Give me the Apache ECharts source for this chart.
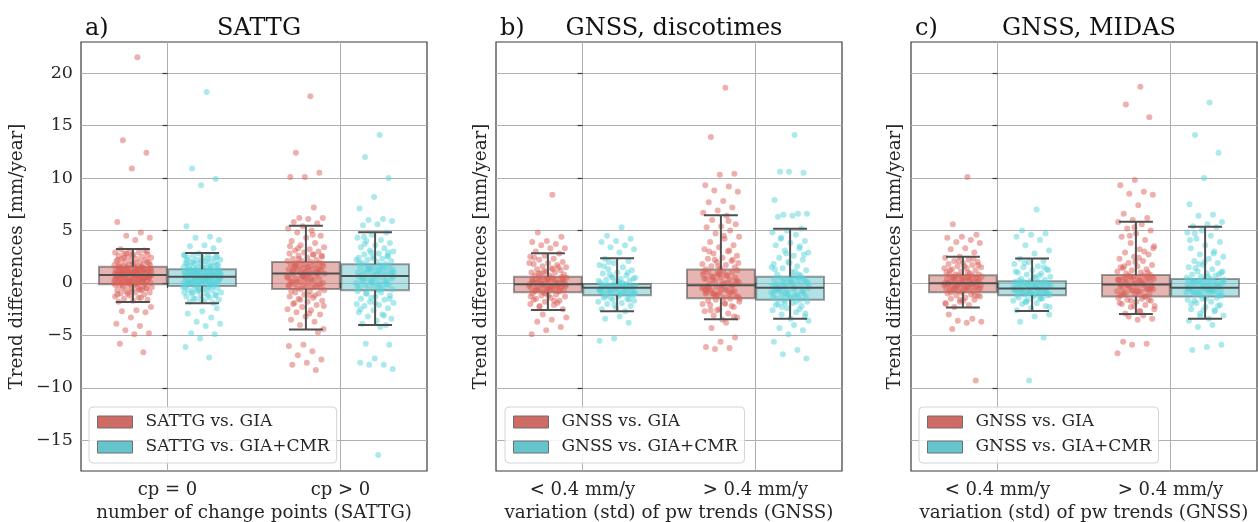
<!DOCTYPE html>
<html>
<head>
<meta charset="utf-8">
<script src="https://cdn.jsdelivr.net/npm/echarts@6/dist/echarts.min.js"></script>
<style>
  html, body { margin: 0; padding: 0; background: #fff; }
  #chart { width: 1258px; height: 522px; }
</style>
</head>
<body>
<div id="chart"></div>
<script>
// ---- text ----
const panelLetters = ['a)', 'b)', 'c)'];
const panelTitles = ['SATTG', 'GNSS, discotimes', 'GNSS, MIDAS'];
const categoriesSATTG = ['cp = 0', 'cp > 0'];
const categoriesGNSS = ['< 0.4 mm/y', '> 0.4 mm/y'];
const xAxisTitles = ['number of change points (SATTG)', 'variation (std) of pw trends (GNSS)', 'variation (std) of pw trends (GNSS)'];
const yAxisTitle = 'Trend differences [mm/year]';
const yTicks = [-15, -10, -5, 0, 5, 10, 15, 20];
const namesSATTG = ['SATTG vs. GIA', 'SATTG vs. GIA+CMR'];
const namesGNSS = ['GNSS vs. GIA', 'GNSS vs. GIA+CMR'];

// ---- box statistics: [lower whisker, q1, median, q3, upper whisker] per category ----
const boxSattgGia = [[-1.81, -0.12, 0.76, 1.55, 3.24], [-4.44, -0.57, 0.89, 2.00, 5.46]];
const boxSattgCmr = [[-1.94, -0.29, 0.60, 1.30, 2.86], [-4.00, -0.70, 0.67, 1.78, 4.83]];
const boxDiscoGia = [[-2.57, -0.89, -0.12, 0.60, 2.83], [-3.46, -1.46, -0.22, 1.27, 6.44]];
const boxDiscoCmr = [[-2.70, -1.17, -0.45, -0.10, 2.35], [-3.40, -1.59, -0.45, 0.60, 5.17]];
const boxMidasGia = [[-2.35, -0.89, -0.03, 0.73, 2.50], [-2.95, -1.30, -0.16, 0.76, 5.84]];
const boxMidasCmr = [[-2.67, -1.17, -0.54, 0.16, 2.32], [-3.40, -1.30, -0.45, 0.38, 5.36]];

// ---- individual trend differences [mm/year] ----
const sattgGia0 = [21.5, 13.6, 12.4, 10.9, 5.8, 4.8, 4.5, 4.3, 4.1,
  3.2, 3.1, 3.0, 2.9, 2.9, 2.8, 2.7, 2.7, 2.6, 2.5, 2.5, 2.4, 2.3, 2.3, 2.2, 2.1, 2.1, 2.0, 2.0, 1.9, 1.9, 1.8, 1.8, 1.7, 1.7, 1.6, 1.6, 3.0, 2.6, 2.2,
  1.5, 1.5, 1.4, 1.4, 1.4, 1.3, 1.3, 1.3, 1.2, 1.2, 1.2, 1.1, 1.1, 1.1, 1.0, 1.0, 1.0, 1.0, 0.9, 0.9, 0.9, 0.9, 0.8, 0.8, 0.8, 0.8, 1.3, 1.1, 0.9, 1.2,
  2.4, 2.0, 1.8, 1.6, 1.5, 1.4, 1.3, 1.2, 1.1, 1.0, 0.9, 0.8, 0.7, 0.6, 0.5, 0.4, 0.3, 0.2, 0.1, 0.0,
  -0.1, -0.3, -0.5, -0.8, -1.1, -1.4, 2.8, 1.7, 1.2, 0.8, 0.5, 0.2, -0.2, -0.6, 1.0, 0.6, 0.9, 1.4, 0.4, 0.0,
  0.7, 0.7, 0.7, 0.6, 0.6, 0.6, 0.5, 0.5, 0.5, 0.4, 0.4, 0.4, 0.3, 0.3, 0.3, 0.2, 0.2, 0.2, 0.1, 0.1, 0.1, 0.0, 0.0, 0.0, -0.1, -0.1, 0.5, 0.3, 0.1, 0.6,
  -0.2, -0.2, -0.3, -0.3, -0.4, -0.4, -0.5, -0.5, -0.6, -0.7, -0.7, -0.8, -0.9, -0.9, -1.0, -1.1, -1.2, -1.3, -1.4, -1.5, -1.6, -1.7, -1.8, -0.6, -1.0,
  -2.3, -2.6, -2.7, -2.8, -3.3, -3.9, -4.1, -4.5, -4.8, -4.9, -5.8, -6.6];
const sattgGia1 = [17.8, 12.4, 10.5, 10.1, 10.1, 7.2, 6.2, 6.2, 6.1, 5.8, 5.7,
  5.4, 5.2, 5.0, 4.8, 4.5, 4.3, 4.0, 3.8, 3.6, 3.4, 3.2, 3.1, 3.0, 2.9, 2.8, 2.7, 2.6, 2.5, 2.4, 2.3, 2.2, 2.1, 2.1, 2.0,
  1.9, 1.9, 1.8, 1.8, 1.7, 1.6, 1.6, 1.5, 1.5, 1.4, 1.4, 1.3, 1.3, 1.2, 1.2, 1.1, 1.1, 1.0, 1.0, 0.9, 0.9, 1.6, 1.3, 1.0,
  3.5, 2.7, 2.3, 1.8, 1.5, 1.2, 1.0, 0.7, 0.5, 0.3, 0.1, -0.1, -0.4, -0.8, -1.2, -1.6, -2.2, -2.9, 1.7, 0.9, 0.6, -0.2, 4.6, 3.3, 2.6,
  0.8, 0.8, 0.7, 0.6, 0.6, 0.5, 0.4, 0.4, 0.3, 0.2, 0.2, 0.1, 0.0, 0.0, -0.1, -0.2, -0.2, -0.3, -0.4, -0.5, -0.5, 0.5, 0.1, -0.3,
  -0.6, -0.7, -0.8, -0.9, -1.0, -1.1, -1.3, -1.4, -1.5, -1.7, -1.8, -2.0, -2.1, -2.3, -2.5, -2.6, -2.8, -3.0, -3.2, -3.5, -3.7, -4.0, -4.4, -1.2, -1.9,
  -4.7, -5.9, -6.0, -6.5, -6.9, -7.3, -7.6, -7.8, -8.3];
const sattgCmr0 = [18.2, 10.9, 9.9, 9.3, 5.4, 4.4, 4.3, 4.1, 3.6, 3.5, 3.3,
  2.8, 2.7, 2.7, 2.6, 2.5, 2.4, 2.4, 2.3, 2.2, 2.2, 2.1, 2.0, 2.0, 1.9, 1.9, 1.8, 1.8, 1.7, 1.7, 1.6, 1.6, 1.5, 1.5, 1.4, 1.4, 2.5, 2.1, 1.8,
  1.3, 1.3, 1.2, 1.2, 1.2, 1.1, 1.1, 1.1, 1.0, 1.0, 1.0, 0.9, 0.9, 0.9, 0.9, 0.8, 0.8, 0.8, 0.7, 0.7, 0.7, 0.7, 0.6, 0.6, 0.6, 1.0, 0.8, 1.1,
  2.6, 2.3, 2.0, 1.7, 1.5, 1.3, 1.2, 1.1, 1.0, 0.9, 0.8, 0.7, 0.6, 0.5, 0.4, 0.3, 0.2, 0.1, 0.0, -0.1,
  -0.2, -0.4, -0.6, -0.9, -1.2, -1.6, 2.2, 1.6, 1.0, 0.7, 0.4, 0.1, -0.3, -0.7, 0.9, 0.5, 0.8, 1.3, 0.3, 0.0,
  0.5, 0.5, 0.5, 0.4, 0.4, 0.4, 0.3, 0.3, 0.3, 0.2, 0.2, 0.2, 0.1, 0.1, 0.1, 0.0, 0.0, 0.0, -0.1, -0.1, -0.2, -0.2, -0.3, 0.4, 0.2, 0.0, -0.1, 0.3,
  -0.4, -0.4, -0.5, -0.5, -0.6, -0.7, -0.7, -0.8, -0.9, -1.0, -1.0, -1.1, -1.2, -1.3, -1.4, -1.5, -1.6, -1.7, -1.8, -1.9, -0.6, -0.9, -1.2, -1.5,
  -2.4, -2.7, -2.9, -3.3, -3.7, -3.9, -4.1, -4.8, -4.9, -5.3, -6.1, -7.1];
const sattgCmr1 = [14.1, 12.0, 10.0, 8.2, 7.1, 6.1, 6.0, 5.9, 5.6, 5.5,
  4.8, 4.6, 4.3, 4.1, 4.0, 3.8, 3.6, 3.4, 3.3, 3.1, 3.0, 2.8, 2.7, 2.6, 2.5, 2.4, 2.3, 2.2, 2.1, 2.0, 1.9, 1.8, 2.9, 2.2,
  1.7, 1.7, 1.6, 1.5, 1.5, 1.4, 1.3, 1.3, 1.2, 1.1, 1.1, 1.0, 1.0, 0.9, 0.9, 0.8, 0.8, 0.7, 0.7, 1.4, 1.0, 1.2,
  3.7, 2.9, 2.3, 1.9, 1.6, 1.3, 1.0, 0.8, 0.5, 0.2, 0.0, -0.3, -0.6, -1.0, -1.5, -1.9, -2.5, -3.1, 1.5, 0.6, -0.2, 4.4, 2.5,
  0.6, 0.6, 0.5, 0.4, 0.4, 0.3, 0.2, 0.1, 0.1, 0.0, -0.1, -0.2, -0.2, -0.3, -0.4, -0.5, -0.5, -0.6, -0.7, 0.3, -0.1, 0.2,
  -0.8, -0.9, -1.0, -1.2, -1.3, -1.5, -1.6, -1.8, -1.9, -2.1, -2.2, -2.4, -2.6, -2.8, -3.0, -3.2, -3.4, -3.6, -3.9, -4.0, -1.4, -2.0,
  -4.2, -5.8, -5.9, -7.2, -7.6, -7.8, -7.8, -8.2, -16.4];

const discoGia0 = [8.4, 4.8, 4.4, 4.0, 3.9, 3.7, 3.6, 3.3, 3.3, 3.0,
  2.8, 2.6, 2.5, 2.3, 2.2, 2.0, 1.9, 1.8, 1.7, 1.6, 1.5, 1.4, 1.3, 1.2, 1.1, 1.0, 1.0, 0.9, 0.8, 0.7, 0.7, 1.5, 1.1,
  1.9, 1.3, 0.9, 0.6, 0.4, 0.2, 0.0, -0.1, -0.2, -0.4, -0.6, -0.8, -1.0, -1.3, -1.7, -2.2, 0.3, -0.5, 2.4, -0.3,
  0.6, 0.5, 0.5, 0.4, 0.4, 0.3, 0.3, 0.2, 0.2, 0.1, 0.1, 0.0, 0.0, -0.1, -0.1, 0.4, 0.2, 0.0, 0.3, 0.1,
  -0.2, -0.2, -0.3, -0.3, -0.4, -0.4, -0.5, -0.5, -0.6, -0.6, -0.7, -0.7, -0.8, -0.8, -0.9, -0.3, -0.5, -0.7, -0.4, -0.6,
  -1.0, -1.1, -1.2, -1.3, -1.4, -1.5, -1.7, -1.8, -2.0, -2.1, -2.3, -2.5, -1.2, -1.6, -1.9,
  -3.0, -3.3, -3.5, -3.7, -4.2, -4.5, -4.9];
const discoGia1 = [18.6, 13.9, 10.4, 10.3, 9.3, 9.2, 8.8, 8.7, 7.8, 7.7, 7.2, 6.9, 6.7,
  6.4, 6.0, 5.6, 5.4, 5.3, 5.0, 4.7, 4.4, 4.2, 3.9, 3.6, 3.4, 3.2, 3.0, 2.8, 2.6, 2.4, 2.3, 2.1, 2.0, 1.8, 1.7, 1.6, 1.5, 1.4, 1.3, 3.1, 2.2, 1.9,
  4.5, 3.0, 2.2, 1.6, 1.1, 0.7, 0.3, 0.0, -0.3, -0.6, -0.9, -1.2, -1.5, -2.0, -2.6, -3.2, 0.9, -0.7, 5.9, -1.0,
  1.2, 1.1, 1.0, 1.0, 0.9, 0.8, 0.7, 0.6, 0.5, 0.5, 0.4, 0.3, 0.2, 0.1, 0.0, -0.1, -0.2, 0.8, 0.4, 0.0, 0.6, 0.2, -0.1,
  -0.3, -0.3, -0.4, -0.5, -0.6, -0.7, -0.8, -0.9, -1.0, -1.1, -1.2, -1.3, -1.4, -0.5, -0.8, -1.1, -0.4, -0.7, -1.0, -1.3, -0.6, -0.9,
  -1.5, -1.6, -1.8, -1.9, -2.1, -2.3, -2.5, -2.7, -2.9, -3.1, -3.3, -3.5, -1.7, -2.2, -2.6, -2.0,
  -3.8, -4.3, -5.2, -5.6, -6.1, -6.2, -6.3];
const discoCmr0 = [5.3, 4.5, 4.2, 4.0, 3.9, 3.6, 3.4, 3.2, 2.9,
  2.3, 2.1, 1.9, 1.7, 1.5, 1.3, 1.2, 1.0, 0.9, 0.7, 0.6, 0.5, 0.4, 0.3, 0.2, 0.1, 0.0, -0.1, 0.8, 0.4, 0.1,
  1.6, 1.0, 0.5, 0.2, 0.0, -0.2, -0.3, -0.4, -0.5, -0.6, -0.8, -0.9, -1.1, -1.3, -1.6, -2.1, -0.7, -0.4, 2.0, -1.0,
  -0.1, -0.2, -0.2, -0.2, -0.3, -0.3, -0.3, -0.4, -0.4, -0.4, -0.2, -0.3, -0.4, -0.1, -0.3,
  -0.5, -0.5, -0.6, -0.6, -0.7, -0.7, -0.8, -0.8, -0.9, -0.9, -1.0, -1.0, -1.1, -1.1, -0.6, -0.8, -1.0, -0.7,
  -1.2, -1.3, -1.4, -1.5, -1.6, -1.8, -1.9, -2.0, -2.2, -2.4, -2.5, -2.7, -1.4, -1.7,
  -3.2, -3.4, -3.8, -5.3, -5.5];
const discoCmr1 = [14.1, 10.6, 10.5, 10.6, 7.9, 6.6, 6.5, 6.6, 6.4, 6.3,
  5.2, 5.0, 4.8, 4.6, 4.3, 4.0, 3.8, 3.6, 3.3, 3.1, 2.9, 2.6, 2.4, 2.2, 2.0, 1.8, 1.6, 1.4, 1.2, 1.0, 0.8, 0.7, 2.8, 1.5, 1.1,
  4.2, 2.7, 1.9, 1.3, 0.8, 0.4, 0.1, -0.2, -0.5, -0.8, -1.1, -1.4, -1.8, -2.3, -2.9, 0.2, -0.6, 3.5, -1.0, -0.3,
  0.6, 0.5, 0.4, 0.4, 0.3, 0.2, 0.1, 0.0, 0.0, -0.1, -0.2, -0.3, -0.3, -0.4, -0.4, 0.3, 0.1, -0.2, 0.5, -0.1,
  -0.5, -0.6, -0.7, -0.8, -0.9, -1.0, -1.1, -1.2, -1.3, -1.4, -1.5, -1.6, -0.6, -0.9, -1.2, -0.8, -1.0, -1.4, -0.7, -1.3,
  -1.7, -1.8, -1.9, -2.0, -2.2, -2.4, -2.6, -2.8, -3.0, -3.2, -3.4, -2.1, -2.5, -1.9,
  -3.6, -4.0, -4.3, -4.5, -4.9, -5.6, -6.4, -6.8, -7.2];

const midasGia0 = [10.1, 5.6, 4.6, 4.4, 4.3, 4.1, 3.9, 3.8, 3.3, 3.2, 2.9,
  2.5, 2.4, 2.2, 2.1, 2.0, 1.9, 1.8, 1.7, 1.6, 1.5, 1.4, 1.3, 1.2, 1.1, 1.0, 0.9, 0.8, 0.8, 1.6, 1.2, 2.3,
  2.1, 1.4, 1.0, 0.6, 0.4, 0.2, 0.0, -0.1, -0.3, -0.5, -0.7, -0.9, -1.2, -1.6, -2.0, 0.3, -0.4, 1.7, -0.2, 0.8,
  0.7, 0.7, 0.6, 0.6, 0.5, 0.5, 0.4, 0.4, 0.3, 0.3, 0.2, 0.2, 0.1, 0.1, 0.0, 0.0, 0.5, 0.3, 0.1, 0.6,
  -0.1, -0.1, -0.2, -0.2, -0.3, -0.3, -0.4, -0.4, -0.5, -0.5, -0.6, -0.6, -0.7, -0.7, -0.8, -0.8, -0.2, -0.4, -0.6, -0.3,
  -0.9, -1.0, -1.1, -1.2, -1.3, -1.4, -1.5, -1.6, -1.8, -1.9, -2.1, -2.3, -1.2, -1.7,
  -3.0, -3.4, -3.6, -3.7, -3.8, -4.4, -9.3];
const midasGia1 = [18.7, 17.0, 15.8, 9.8, 9.3, 8.7, 8.5, 8.4, 7.4, 6.6, 6.2, 6.0,
  5.8, 5.6, 5.2, 5.0, 4.7, 4.4, 4.1, 3.8, 3.5, 3.2, 2.9, 2.7, 2.5, 2.3, 2.1, 1.9, 1.7, 1.6, 1.4, 1.3, 1.2, 1.1, 1.0, 0.9, 0.8, 2.0, 1.5, 3.0,
  4.5, 3.3, 2.4, 1.6, 1.0, 0.6, 0.3, 0.0, -0.2, -0.5, -0.8, -1.0, -1.3, -1.7, -2.2, -2.7, 0.4, -0.6, 5.3, -0.3,
  0.7, 0.7, 0.6, 0.5, 0.5, 0.4, 0.3, 0.3, 0.2, 0.1, 0.1, 0.0, -0.1, -0.1, 0.6, 0.4, 0.2, 0.0, 0.5, -0.1, 0.3,
  -0.2, -0.3, -0.3, -0.4, -0.5, -0.6, -0.7, -0.8, -0.8, -0.9, -1.0, -1.1, -1.2, -1.3, -0.4, -0.6, -0.9, -1.1, -0.5, -0.7,
  -1.4, -1.5, -1.6, -1.7, -1.8, -2.0, -2.1, -2.3, -2.5, -2.7, -2.9, -1.6, -2.2, -1.9,
  -3.1, -3.2, -3.4, -3.5, -5.6, -5.8, -5.9, -6.7];
const midasCmr0 = [7.0, 5.0, 4.7, 4.6, 4.4, 4.1, 3.6, 3.1, 2.8,
  2.3, 2.1, 2.0, 1.8, 1.6, 1.5, 1.3, 1.2, 1.0, 0.9, 0.8, 0.6, 0.5, 0.4, 0.3, 0.2, 1.1, 0.7,
  1.9, 1.2, 0.6, 0.2, 0.0, -0.2, -0.4, -0.5, -0.6, -0.8, -1.0, -1.2, -1.4, -1.8, -2.3, -0.3, -0.7, 1.5, -0.9, 0.1,
  0.1, 0.1, 0.0, 0.0, -0.1, -0.1, -0.2, -0.2, -0.3, -0.3, -0.4, -0.4, -0.5, -0.5, 0.0, -0.2, -0.4, -0.1,
  -0.6, -0.6, -0.7, -0.7, -0.8, -0.8, -0.9, -0.9, -1.0, -1.0, -1.1, -1.1, -0.7, -0.9, -1.0, -0.6, -0.8, -1.1,
  -1.2, -1.3, -1.4, -1.5, -1.6, -1.7, -1.9, -2.0, -2.2, -2.4, -2.6, -1.5, -1.8,
  -3.0, -3.2, -3.7, -5.2, -9.3];
const midasCmr1 = [17.2, 14.1, 12.4, 10.0, 7.5, 6.5, 6.4, 5.8, 5.6,
  5.4, 5.3, 5.0, 4.8, 4.5, 4.2, 3.9, 3.6, 3.3, 3.0, 2.7, 2.5, 2.3, 2.1, 1.9, 1.7, 1.5, 1.3, 1.1, 1.0, 0.9, 0.8, 0.7, 0.6, 0.5, 0.4, 1.4, 0.8, 2.0,
  4.1, 2.8, 1.8, 1.1, 0.6, 0.2, -0.1, -0.3, -0.5, -0.7, -0.9, -1.2, -1.5, -2.0, -2.6, -3.2, 0.3, -0.6, 4.7, -0.4,
  0.3, 0.3, 0.2, 0.2, 0.1, 0.1, 0.0, 0.0, -0.1, -0.1, -0.2, -0.2, -0.3, -0.3, -0.4, -0.4, 0.2, 0.0, -0.2, 0.1, -0.3,
  -0.5, -0.5, -0.6, -0.6, -0.7, -0.7, -0.8, -0.8, -0.9, -0.9, -1.0, -1.1, -1.2, -1.3, -0.6, -0.8, -1.0, -1.2, -0.7, -0.9,
  -1.4, -1.5, -1.6, -1.8, -1.9, -2.1, -2.3, -2.5, -2.7, -2.9, -3.1, -3.4, -1.7, -2.2, -2.6,
  -3.6, -4.0, -4.2, -5.9, -6.1, -6.4];

// ---- styling ----
const FONT = 'DejaVu Serif';
const TEXT = '#262626';
const FRAME = '#3a3a3a';
const GRIDLINE = '#b0b0b0';
const Y_MIN = -17.92, Y_MAX = 22.96;
const HUE_OFFSET = 0.2;      // dodge of the two hues around a category
const BOX_WIDTH = 0.392;     // in category units
const JITTER = 0.22;         // total strip width, category units
const hues = [
  { legend: '#cd6b64', box: 'rgba(205,107,100,0.5)', point: 'rgba(219,95,87,0.62)' },
  { legend: '#66c5cc', box: 'rgba(102,197,204,0.5)', point: 'rgba(87,211,219,0.62)' }
];

const panels = [
  { cats: categoriesSATTG, names: namesSATTG, boxes: [boxSattgGia, boxSattgCmr],
    points: [[sattgGia0, sattgGia1], [sattgCmr0, sattgCmr1]], left: 81, legendLeft: 89, nameGap: 55, showLabels: true },
  { cats: categoriesGNSS, names: namesGNSS, boxes: [boxDiscoGia, boxDiscoCmr],
    points: [[discoGia0, discoGia1], [discoCmr0, discoCmr1]], left: 496, legendLeft: 505, nameGap: 6, showLabels: false },
  { cats: categoriesGNSS, names: namesGNSS, boxes: [boxMidasGia, boxMidasCmr],
    points: [[midasGia0, midasGia1], [midasCmr0, midasCmr1]], left: 911, legendLeft: 919, nameGap: 7, showLabels: false }
];
const PANEL_W = 346, PANEL_TOP = 42, PANEL_H = 429;

// horizontal strip placement of the points within one hue column
function strip(values, center) {
  return values.map((v, i) => [center + ((((i + 1) * 0.6180339887) % 1) - 0.5) * JITTER, v]);
}

function boxRect(params, api) {
  const x = api.value(0);
  const hw = api.size([BOX_WIDTH, 0])[0] / 2;
  const top = api.coord([x, api.value(4)]);
  const bot = api.coord([x, api.value(2)]);
  return {
    type: 'rect',
    shape: { x: top[0] - hw, y: top[1], width: 2 * hw, height: bot[1] - top[1] },
    style: { fill: api.visual('color'), stroke: 'rgba(60,60,60,0.5)', lineWidth: 2 }
  };
}

function boxLines(params, api) {
  const x = api.value(0);
  const hw = api.size([BOX_WIDTH, 0])[0] / 2;
  const low = api.coord([x, api.value(1)]);
  const cx = low[0];
  const yLow = low[1];
  const yQ1 = api.coord([x, api.value(2)])[1];
  const yMed = api.coord([x, api.value(3)])[1];
  const yQ3 = api.coord([x, api.value(4)])[1];
  const yHigh = api.coord([x, api.value(5)])[1];
  const st = { stroke: '#4f4f4f', lineWidth: 2 };
  const seg = (x1, y1, x2, y2) => ({ type: 'line', shape: { x1, y1, x2, y2 }, style: st });
  return {
    type: 'group',
    children: [
      seg(cx - hw, yMed, cx + hw, yMed),
      seg(cx, yQ3, cx, yHigh),
      seg(cx - hw / 2, yHigh, cx + hw / 2, yHigh),
      seg(cx, yQ1, cx, yLow),
      seg(cx - hw / 2, yLow, cx + hw / 2, yLow)
    ]
  };
}

const option = {
  backgroundColor: '#fff',
  animation: false,
  textStyle: { fontFamily: FONT },
  title: [], grid: [], xAxis: [], yAxis: [], legend: [], series: []
};

panels.forEach((p, i) => {
  const center = p.left + PANEL_W / 2;
  option.title.push({
    text: panelLetters[i], left: p.left - 1, top: 12,
    textStyle: { fontFamily: FONT, fontSize: 24, fontWeight: 'normal', color: '#111' }
  });
  option.title.push({
    text: panelTitles[i], left: center, top: 12, textAlign: 'center',
    textStyle: { fontFamily: FONT, fontSize: 24, fontWeight: 'normal', color: '#111' }
  });
  option.grid.push({
    left: p.left, top: PANEL_TOP, width: PANEL_W, height: PANEL_H,
    containLabel: false, outerBoundsMode: 'none',
    show: true, borderColor: FRAME, borderWidth: 1.2, backgroundColor: 'transparent'
  });
  // visible category axis: five slots so that the two categories sit at 1/4 and 3/4
  const slots = ['', p.cats[0], '', p.cats[1], ''];
  const atCategory = (idx) => idx === 1 || idx === 3;
  option.xAxis.push({
    type: 'category', gridIndex: i, data: slots, boundaryGap: false,
    name: xAxisTitles[i], nameLocation: 'middle', nameGap: 32,
    nameTextStyle: { fontFamily: FONT, fontSize: 18.3, color: TEXT },
    axisLine: { show: false },
    axisTick: { show: true, interval: atCategory, length: 5, lineStyle: { color: FRAME, width: 1.2 } },
    axisLabel: { interval: atCategory, margin: 10, fontFamily: FONT, fontSize: 18, color: TEXT },
    splitLine: { show: true, interval: atCategory, lineStyle: { color: GRIDLINE, width: 1 } }
  });
  // hidden numeric axis used to place boxes and points
  option.xAxis.push({
    type: 'value', gridIndex: i, min: -0.5, max: 1.5, show: false
  });
  option.yAxis.push({
    type: 'value', gridIndex: i, min: Y_MIN, max: Y_MAX,
    splitNumber: 8, minInterval: 5, maxInterval: 5,
    name: yAxisTitle, nameLocation: 'middle', nameGap: p.nameGap, nameRotate: 90,
    nameTextStyle: { fontFamily: FONT, fontSize: 18.3, color: TEXT },
    axisLine: { show: false },
    axisTick: { show: true, customValues: yTicks, length: 5, lineStyle: { color: FRAME, width: 1.2 } },
    axisLabel: {
      show: p.showLabels, customValues: yTicks, margin: 8,
      fontFamily: FONT, fontSize: 17.5, color: TEXT,
      formatter: (v) => String(v).replace('-', '\u2212')
    },
    splitLine: { show: true, lineStyle: { color: GRIDLINE, width: 1 } }
  });

  const xIdx = 2 * i + 1;
  [0, 1].forEach((h) => {
    const off = h === 0 ? -HUE_OFFSET : HUE_OFFSET;
    option.series.push({
      type: 'custom', name: p.names[h] + ' box', xAxisIndex: xIdx, yAxisIndex: i, z: 1,
      renderItem: boxRect, itemStyle: { color: hues[h].box },
      encode: { x: 0, y: [1, 2, 3, 4, 5] },
      data: p.boxes[h].map((b, c) => [c + off].concat(b)),
      silent: true
    });
    option.series.push({
      type: 'scatter', name: p.names[h], xAxisIndex: xIdx, yAxisIndex: i, z: 2,
      symbolSize: 6, itemStyle: { color: hues[h].point, borderWidth: 0 },
      data: strip(p.points[h][0], 0 + off).concat(strip(p.points[h][1], 1 + off)),
      silent: true
    });
    option.series.push({
      type: 'custom', name: p.names[h] + ' whiskers', xAxisIndex: xIdx, yAxisIndex: i, z: 3,
      renderItem: boxLines,
      encode: { x: 0, y: [1, 2, 3, 4, 5] },
      data: p.boxes[h].map((b, c) => [c + off].concat(b)),
      silent: true
    });
  });

  option.legend.push({
    orient: 'vertical', left: p.legendLeft, top: 407,
    padding: [5, 7, 6, 8], itemGap: 5, itemWidth: 35, itemHeight: 12,
    backgroundColor: 'rgba(255,255,255,0.85)', borderColor: '#d4d4d4', borderWidth: 1, borderRadius: 4,
    selectedMode: false, icon: 'rect',
    textStyle: { fontFamily: FONT, fontSize: 17, color: TEXT, lineHeight: 20, padding: [0, 0, 0, 8] },
    data: p.names.map((n, h) => ({
      name: n, itemStyle: { color: hues[h].legend, borderColor: '#6e6e6e', borderWidth: 1, opacity: 1 }
    }))
  });
});

const chart = echarts.init(document.getElementById('chart'), null, { renderer: 'canvas' });
chart.setOption(option);
</script>
</body>
</html>
